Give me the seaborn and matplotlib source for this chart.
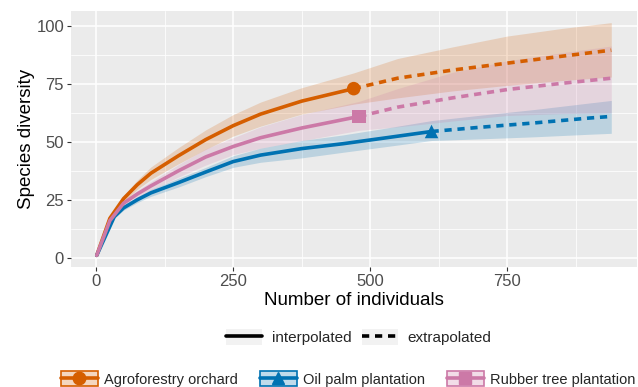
import pandas as pd
import numpy as np
import matplotlib.pyplot as plt
import seaborn as sns
from matplotlib.lines import Line2D
from matplotlib.patches import Patch
from matplotlib.ticker import MultipleLocator

sites = ["Agroforestry orchard", "Oil palm plantation", "Rubber tree plantation"]
site_colors = ["#D55E00", "#0072B2", "#CC79A7"]
site_markers = ["o", "^", "s"]

# Agroforestry orchard (reference sample ~470 individuals)
agro_m_int = [1, 25, 50, 75, 100, 150, 200, 250, 300, 375, 470]
agro_q_int = [1, 17, 25.5, 31.5, 36.5, 44, 51, 57, 62, 67.6, 73]
agro_lo_int = [1, 16.2, 24.2, 29.5, 33.8, 40.5, 46.8, 52.5, 56.8, 62, 66.3]
agro_hi_int = [1, 17.8, 26.8, 33.5, 39.2, 47.5, 55.2, 61.8, 67.2, 73.4, 79.8]
agro_m_ext = [470, 550, 650, 750, 850, 940]
agro_q_ext = [73, 77.5, 81, 84, 87, 89.6]
agro_lo_ext = [66.3, 69, 72, 74.4, 76.5, 78]
agro_hi_ext = [79.8, 86, 91, 95.7, 99, 101.5]

# Oil palm plantation (reference sample ~612 individuals)
palm_m_int = [1, 33, 50, 75, 100, 150, 200, 250, 300, 375, 450, 530, 612]
palm_q_int = [1, 17.7, 21.5, 25, 28, 32.4, 37, 41.5, 44.3, 47.1, 49.2, 51.8, 54.5]
palm_lo_int = [1, 17, 20.5, 23.8, 26.5, 30.5, 35, 39, 41.2, 43.1, 45.5, 48, 50.6]
palm_hi_int = [1, 18.4, 22.5, 26.2, 29.5, 34.3, 39, 44, 47.3, 50.6, 53, 56, 59.2]
palm_m_ext = [612, 700, 800, 900, 940]
palm_q_ext = [54.5, 56.3, 58.2, 60.3, 61]
palm_lo_ext = [50.6, 51.3, 52.2, 53.3, 53.7]
palm_hi_ext = [59.2, 61.5, 64, 66.8, 67.9]

# Rubber tree plantation (reference sample ~480 individuals)
rubber_m_int = [1, 25, 50, 75, 100, 150, 200, 250, 300, 375, 480]
rubber_q_int = [1, 16, 23.5, 27.5, 31, 37.5, 43.5, 48, 51.8, 56, 61]
rubber_lo_int = [1, 15.3, 22.3, 26, 29.2, 34.8, 40, 44.5, 47.3, 50.5, 55]
rubber_hi_int = [1, 16.7, 24.7, 29, 32.8, 40.2, 47, 51.8, 56.5, 61.8, 67.5]
rubber_m_ext = [480, 550, 650, 750, 850, 940]
rubber_q_ext = [61, 65, 69, 72.6, 75.3, 77.5]
rubber_lo_ext = [55, 56.5, 59, 61.4, 62.2, 62.5]
rubber_hi_ext = [67.5, 73, 80, 85, 88.5, 91.4]

# ── build long table ─────────────────────────────────────────────────────────
series = {
    sites[0]: (agro_m_int, agro_q_int, agro_lo_int, agro_hi_int,
               agro_m_ext, agro_q_ext, agro_lo_ext, agro_hi_ext),
    sites[1]: (palm_m_int, palm_q_int, palm_lo_int, palm_hi_int,
               palm_m_ext, palm_q_ext, palm_lo_ext, palm_hi_ext),
    sites[2]: (rubber_m_int, rubber_q_int, rubber_lo_int, rubber_hi_int,
               rubber_m_ext, rubber_q_ext, rubber_lo_ext, rubber_hi_ext),
}
rows = []
for site, (mi, qi, li, hi, me, qe, le, he) in series.items():
    for m, q, lo, up in zip(mi, qi, li, hi):
        rows.append((site, "interpolated", m, q, lo, up))
    for m, q, lo, up in zip(me, qe, le, he):
        rows.append((site, "extrapolated", m, q, lo, up))
df = pd.DataFrame(rows, columns=["site", "method", "m", "qD", "lo", "hi"])
ref = pd.DataFrame({
    "site": sites,
    "m": [agro_m_int[-1], palm_m_int[-1], rubber_m_int[-1]],
    "qD": [agro_q_int[-1], palm_q_int[-1], rubber_q_int[-1]],
})

# ── STYLE ────────────────────────────────────────────────────────────────────
sns.set_theme(style="darkgrid", rc={
    "axes.facecolor": "#EBEBEB",
    "grid.color": "white",
})
plt.rcParams["font.family"] = ["Liberation Sans", "DejaVu Sans"]
palette = dict(zip(sites, site_colors))

fig = plt.figure(figsize=(6.38, 3.87), dpi=100)
ax = fig.add_axes([71 / 638, 1 - 267 / 387, 566 / 638, 256 / 387])

# confidence bands
for site in sites:
    d = df[df["site"] == site].sort_values("m")
    ax.fill_between(d["m"], d["lo"], d["hi"], color=palette[site],
                    alpha=0.2, linewidth=0, zorder=2)

sns.lineplot(data=df, x="m", y="qD", hue="site", style="method",
             palette=palette, hue_order=sites,
             dashes={"interpolated": "", "extrapolated": (2.0, 1.6)},
             linewidth=2.6, sort=True, estimator=None, legend=False,
             ax=ax, zorder=3)
sns.scatterplot(data=ref, x="m", y="qD", hue="site", style="site",
                palette=palette, hue_order=sites,
                markers=dict(zip(sites, site_markers)),
                s=95, edgecolor="none", legend=False, ax=ax, zorder=4)

# ggplot-like limits (5% expansion)
xmin, xmax = df["m"].min(), df["m"].max()
ymin, ymax = df["lo"].min(), df["hi"].max()
ax.set_xlim(xmin - 0.05 * (xmax - xmin), xmax + 0.05 * (xmax - xmin))
ax.set_ylim(ymin - 0.05 * (ymax - ymin), ymax + 0.05 * (ymax - ymin))
ax.set_xticks([0, 250, 500, 750])
ax.set_yticks([0, 25, 50, 75, 100])
ax.xaxis.set_minor_locator(MultipleLocator(125))
ax.yaxis.set_minor_locator(MultipleLocator(12.5))
ax.grid(which="major", color="white", linewidth=1.1)
ax.grid(which="minor", color="white", linewidth=0.55)
ax.tick_params(which="major", length=3, width=0.8, color="#333333",
               labelsize=12, labelcolor="#4D4D4D", pad=2)
ax.tick_params(which="minor", length=0)
ax.tick_params(axis="x", bottom=True)
ax.tick_params(axis="y", left=True)
for sp in ax.spines.values():
    sp.set_visible(False)

ax.set_xlabel("Number of individuals", fontsize=13.5, color="black", labelpad=2)
ax.set_ylabel("Species diversity", fontsize=13.5, color="black", labelpad=1)

# ── LEGENDS ──────────────────────────────────────────────────────────────────
key_bg = "#F2F2F2"
lt_handles = [
    (Patch(facecolor=key_bg, edgecolor="none"),
     Line2D([], [], color="black", lw=2.6)),
    (Patch(facecolor=key_bg, edgecolor="none"),
     Line2D([], [], color="black", lw=2.6, ls=(0, (2.0, 1.6)))),
]
fig.legend(lt_handles, ["interpolated", "extrapolated"], ncol=2,
           loc="center", bbox_to_anchor=(359 / 638, 1 - 337 / 387),
           frameon=False, fontsize=11, handlelength=2.35, handleheight=1.2,
           handletextpad=0.65, columnspacing=0.65, borderpad=0)

site_handles = [
    (Patch(facecolor=c, alpha=0.25, edgecolor="none"),
     Patch(facecolor="none", edgecolor=c, linewidth=1.2),
     Line2D([], [], color=c, lw=2.6, marker=mk, markersize=9))
    for c, mk in zip(site_colors, site_markers)
]
fig.legend(site_handles, sites, ncol=3,
           loc="center", bbox_to_anchor=(348 / 638, 1 - 379 / 387),
           frameon=False, fontsize=10.5, handlelength=2.54, handleheight=1.23,
           handletextpad=0.41, columnspacing=1.5, borderpad=0)

plt.savefig("out.png", dpi=100)
plt.close()
